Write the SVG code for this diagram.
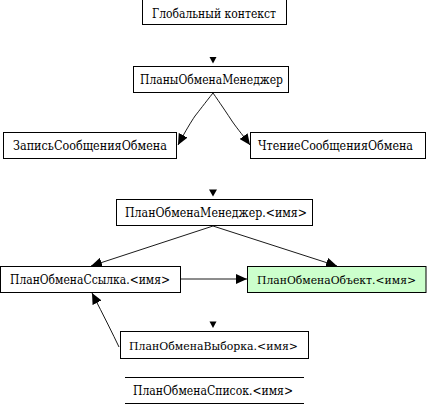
<svg xmlns="http://www.w3.org/2000/svg" width="427" height="405" viewBox="0 0 427 405">
<style>
.box{fill:#ffffff;stroke:#000;stroke-width:1}
.green{fill:#ccffcc}
.t{font-size:12px;fill:#000;text-anchor:middle}
.e{fill:none;stroke:#000;stroke-width:0.9}
.tri{fill:#000}
</style>
<defs>
<marker id="ah" markerUnits="userSpaceOnUse" markerWidth="12" markerHeight="10" refX="11" refY="5" orient="auto">
<path d="M0,0 L11,5 L0,10 Z" fill="#000"/>
</marker>
</defs>
<rect width="427" height="405" fill="#fff"/>
<g id="connectors">
<polygon class="tri" points="209.5,57 216.5,57 213,63.5"/>
<polygon class="tri" points="209,189.5 217,189.5 213,196.5"/>
<polygon class="tri" points="209.5,321.5 216.5,321.5 213,328"/>
<path class="e" d="M213,93 C205,103 199,111 195,116 C191,122 186,130 178,145" marker-end="url(#ah)"/>
<path class="e" d="M213,93 C220,103 226,112 230,118 C235,126 242,134 250,145" marker-end="url(#ah)"/>
<path class="e" d="M213,226 L91,266" marker-end="url(#ah)"/>
<path class="e" d="M213,226 L337,266" marker-end="url(#ah)"/>
<path class="e" d="M180,279 L247,279" marker-end="url(#ah)"/>
<path class="e" d="M119,347 Q110,328 92,293" marker-end="url(#ah)"/>
</g>
<g font-family="DejaVu Serif, Liberation Serif, serif">
<g id="global">
<rect class="box" x="142.5" y="-1.5" width="144" height="26"/>
<text class="t" x="214" y="17.5" textLength="124" lengthAdjust="spacingAndGlyphs">Глобальный контекст</text>
</g>
<g id="plansManager">
<rect class="box" x="133.5" y="66.5" width="155" height="26"/>
<text class="t" x="211.5" y="84" textLength="143" lengthAdjust="spacingAndGlyphs">ПланыОбменаМенеджер</text>
</g>
<g id="writeMsg">
<rect class="box" x="3.5" y="132.5" width="173" height="26"/>
<text class="t" x="90" y="149.5" textLength="154" lengthAdjust="spacingAndGlyphs">ЗаписьСообщенияОбмена</text>
</g>
<g id="readMsg">
<rect class="box" x="250.5" y="132.5" width="175" height="26"/>
<text class="t" x="335.5" y="149.5" textLength="155" lengthAdjust="spacingAndGlyphs">ЧтениеСообщенияОбмена</text>
</g>
<g id="planManager">
<rect class="box" x="116.5" y="199.5" width="196" height="26"/>
<text class="t" x="216" y="217" textLength="182" lengthAdjust="spacingAndGlyphs">ПланОбменаМенеджер.&lt;имя&gt;</text>
</g>
<g id="planRef">
<rect class="box" x="0.5" y="266.5" width="180" height="26"/>
<text class="t" x="90" y="284" textLength="160" lengthAdjust="spacingAndGlyphs">ПланОбменаСсылка.&lt;имя&gt;</text>
</g>
<g id="planObject">
<rect class="box green" x="247.5" y="266.5" width="178.5" height="26"/>
<text class="t" x="336.5" y="284" textLength="159" lengthAdjust="spacingAndGlyphs" style="font-size:11.5px">ПланОбменаОбъект.&lt;имя&gt;</text>
</g>
<g id="planSelection">
<rect class="box" x="120.5" y="331.5" width="188" height="27"/>
<text class="t" x="213.5" y="349.5" textLength="169" lengthAdjust="spacingAndGlyphs" style="font-size:11px">ПланОбменаВыборка.&lt;имя&gt;</text>
</g>
<g id="planList">
<line x1="125" y1="377.5" x2="304" y2="377.5" stroke="#000" stroke-width="1"/>
<line x1="125" y1="403.5" x2="304" y2="403.5" stroke="#000" stroke-width="1"/>
<text class="t" x="213" y="395" textLength="160" lengthAdjust="spacingAndGlyphs">ПланОбменаСписок.&lt;имя&gt;</text>
</g>
</g>
</svg>
